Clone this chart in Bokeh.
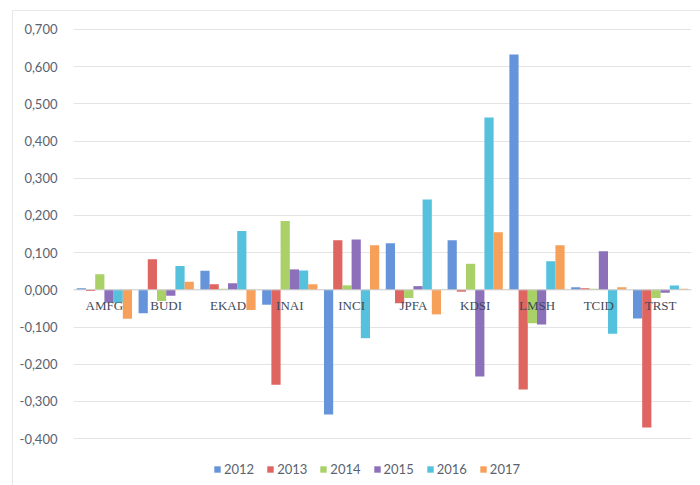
from bokeh.plotting import figure
from bokeh.models import (ColumnDataSource, FactorRange, Range1d, FixedTicker,
                          CustomJSTickFormatter, Legend, LegendItem, Span)
from bokeh.transform import dodge
from bokeh.core.properties import value
from bokeh.embed import file_html
from bokeh.resources import INLINE

companies = ["AMFG", "BUDI", "EKAD", "INAI", "INCI", "JPFA", "KDSI", "LMSH", "TCID", "TRST"]
years = ["2012", "2013", "2014", "2015", "2016", "2017"]
v2012 = [0.004, -0.063, 0.051, -0.040, -0.335, 0.125, 0.133, 0.633, 0.007, -0.077]
v2013 = [-0.003, 0.082, 0.015, -0.255, 0.133, -0.036, -0.005, -0.268, 0.004, -0.370]
v2014 = [0.042, -0.030, 0.003, 0.185, 0.012, -0.022, 0.070, -0.090, 0.003, -0.022]
v2015 = [-0.034, -0.016, 0.018, 0.055, 0.135, 0.010, -0.233, -0.093, 0.104, -0.008]
v2016 = [-0.035, 0.064, 0.158, 0.052, -0.130, 0.243, 0.463, 0.077, -0.118, 0.012]
v2017 = [-0.078, 0.022, -0.054, 0.015, 0.120, -0.066, 0.155, 0.120, 0.007, 0.003]
y_ticks = [-0.4, -0.3, -0.2, -0.1, 0.0, 0.1, 0.2, 0.3, 0.4, 0.5, 0.6, 0.7]

series = [v2012, v2013, v2014, v2015, v2016, v2017]
colors = ["#6594da", "#df6561", "#a9d168", "#8d70ba", "#55c1dc", "#f6a05a"]

data = {"company": companies}
for y, s in zip(years, series):
    data["y" + y] = s
src = ColumnDataSource(data)

p = figure(width=688, height=475, x_range=FactorRange(*companies, range_padding=0),
           y_range=Range1d(-0.5287, 0.7214), output_backend="svg", toolbar_location=None,
           min_border_left=60, min_border_right=10, min_border_top=10, min_border_bottom=0,
           margin=(10, 0, 0, 12),
           styles={"border-left": "1px solid #e8e8e8", "border-top": "1px solid #e8e8e8"})
p.outline_line_color = None
p.background_fill_color = "white"
p.border_fill_color = "white"

bw = 0.149
items = []
for j, (y, c) in enumerate(zip(years, colors)):
    r = p.vbar(x=dodge("company", (j - 2.5) * bw, range=p.x_range), top="y" + y, bottom=0,
               width=bw, source=src, fill_color=c, line_color=None)
    items.append(LegendItem(label=y, renderers=[r]))

p.text(x="company", y=-0.043, text="company", source=src,
       text_font=value("Liberation Serif"), text_font_size="13px",
       text_color="#3d4a5a", text_align="center", text_baseline="middle")

p.xaxis.visible = False
p.xgrid.visible = False
ticker = FixedTicker(ticks=y_ticks)
p.yaxis.ticker = ticker
p.ygrid.ticker = ticker
p.ygrid.grid_line_color = "#e4e4e4"
p.yaxis.formatter = CustomJSTickFormatter(
    code="var t = Math.abs(tick) < 1e-9 ? 0 : tick; return t.toFixed(3).replace('.', ',');")
p.yaxis.axis_line_color = None
p.yaxis.major_tick_line_color = None
p.yaxis.minor_tick_line_color = None
p.yaxis.major_label_standoff = 10
p.yaxis.major_label_text_font = "Lato"
p.yaxis.major_label_text_font_size = "13px"
p.yaxis.major_label_text_color = "#5a6270"

p.add_layout(Span(location=0, dimension="width", line_color="#d0d0d0", line_width=1))

legend = Legend(items=items, orientation="horizontal", location=(138, 7),
                glyph_width=8, glyph_height=8, label_standoff=3, spacing=12,
                padding=2, margin=0, border_line_alpha=0, background_fill_alpha=0,
                label_text_font="Lato", label_text_font_size="13px",
                label_text_color="#5a6270")
p.add_layout(legend, "center")

open("out.html", "w").write(file_html(p, INLINE))
